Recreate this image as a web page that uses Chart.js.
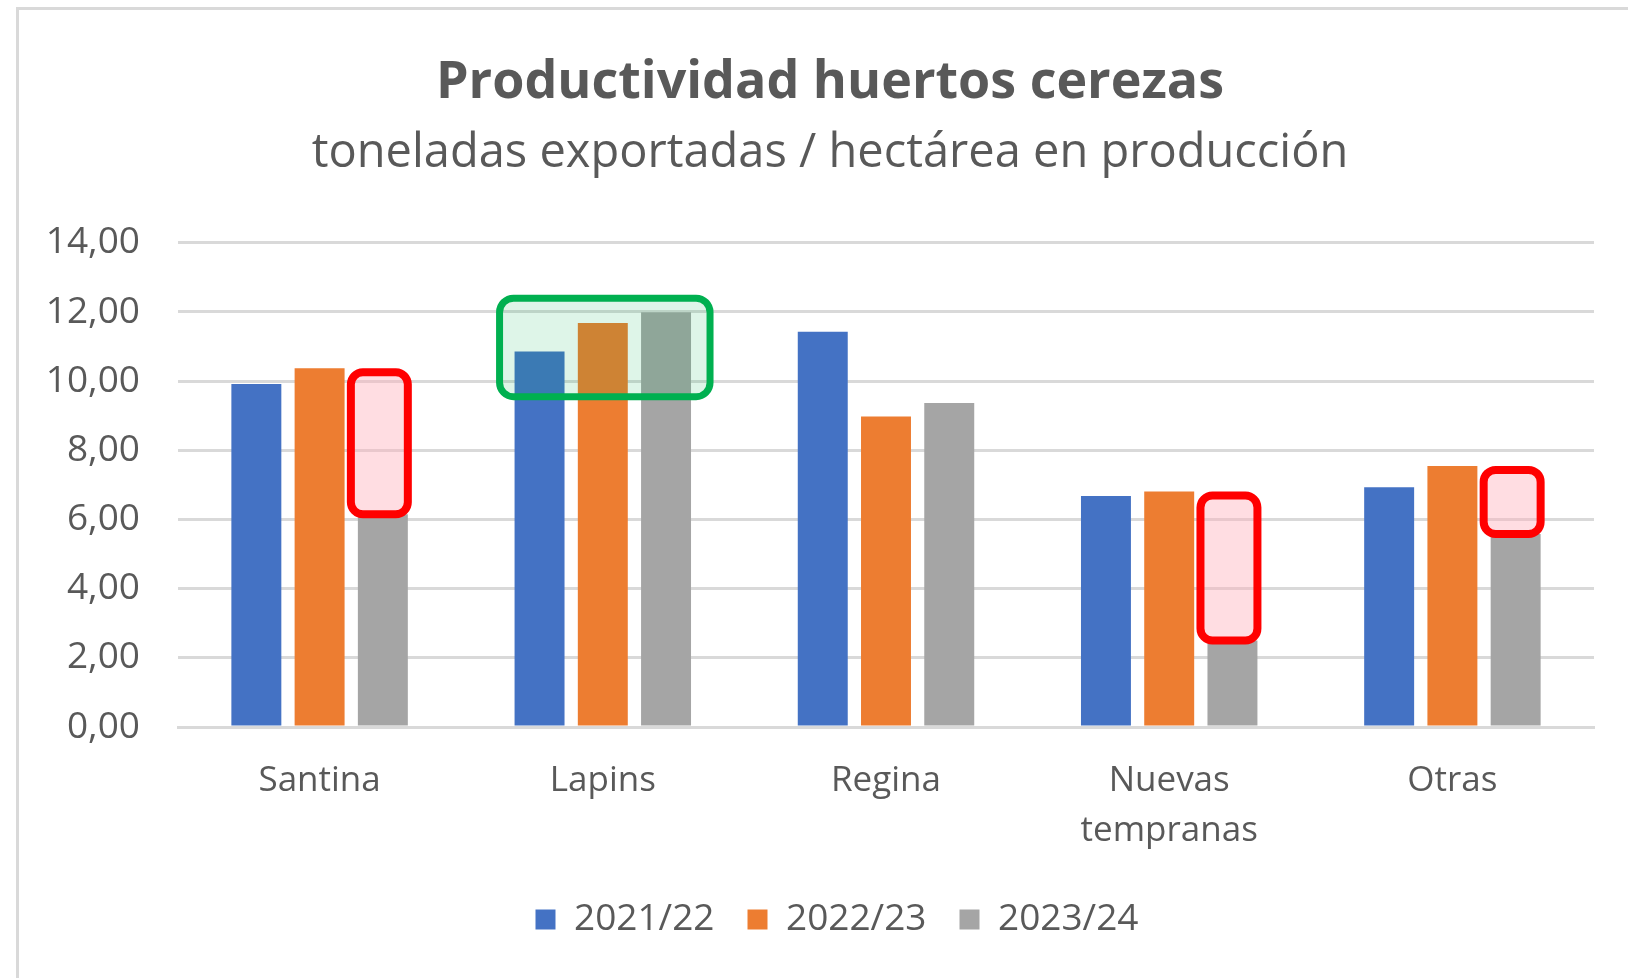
<!DOCTYPE html>
<html>
<head>
<meta charset="utf-8">
<script src="https://cdn.jsdelivr.net/npm/chart.js@4/dist/chart.umd.min.js"></script>
<style>
  body { margin: 0; background: #fff; }
  .wrap { position: relative; width: 1628px; height: 978px; overflow: hidden; }
  .frame { position: absolute; left: 16px; top: 7px; width: 1700px; height: 1100px; border: 3px solid #d9d9d9; box-sizing: border-box; }
  canvas { position: absolute; left: 0; top: 0; }
</style>
</head>
<body>
<div class="wrap">
  <div class="frame"></div>
  <canvas id="myChart" width="1628" height="978"></canvas>
</div>
<script>
// chart data
const categories = ['Santina', 'Lapins', 'Regina', ['Nuevas', 'tempranas'], 'Otras'];
const seasons = ['2021/22', '2022/23', '2023/24'];
const values2122 = [9.92, 10.86, 11.43, 6.68, 6.93];
const values2223 = [10.37, 11.68, 8.98, 6.81, 7.55];
const values2324 = [6.15, 11.99, 9.37, 2.5, 5.58];
const yTicks = [0, 2, 4, 6, 8, 10, 12, 14];

// highlight boxes: red = drop from 2022/23 to 2023/24, green = Lapins growth
const dropIdx = [0, 3, 4];
const growIdx = 1;
const growRange = [9.55, 12.4];

const colors = ['#4472C4', '#ED7D31', '#A5A5A5'];
const grey = '#595959';
const fontFam = "'Open Sans', sans-serif";

function roundBox(ctx, x1, y1, x2, y2, r, fill, stroke, lw) {
  ctx.save();
  ctx.beginPath();
  ctx.roundRect(x1, y1, x2 - x1, y2 - y1, r);
  ctx.fillStyle = fill;
  ctx.fill();
  ctx.lineWidth = lw;
  ctx.strokeStyle = stroke;
  ctx.stroke();
  ctx.restore();
}

// draws the marker boxes from the bar elements and the y scale
const boxesPlugin = {
  id: 'boxes',
  // title, subtitle and legend sit a bit right of canvas centre in the original
  afterLayout(chart) {
    chart.boxes.forEach(b => {
      if (b !== chart.scales.x && b !== chart.scales.y) {
        const shift = b === chart.legend ? 40 : 33;
        b.left += shift;
        b.right += shift;
      }
    });
  },
  afterDatasetsDraw(chart) {
    const ctx = chart.ctx;
    const y = chart.scales.y;
    const orange = chart.getDatasetMeta(1).data;
    const gray = chart.getDatasetMeta(2).data;
    const blue = chart.getDatasetMeta(0).data;

    dropIdx.forEach(i => {
      const bar = gray[i];
      const left = bar.x - bar.width / 2 - 7;
      const right = bar.x + bar.width / 2;
      const top = orange[i].y + 4;
      const bottom = y.getPixelForValue(values2324[i]);
      roundBox(ctx, left, top, right, bottom, 12, 'rgba(255, 175, 185, 0.42)', '#FF0000', 8);
    });

    const b = blue[growIdx], g = gray[growIdx];
    roundBox(ctx, b.x - b.width / 2 - 15, y.getPixelForValue(growRange[1]),
      g.x + g.width / 2 + 19, y.getPixelForValue(growRange[0]),
      14, 'rgba(0, 176, 80, 0.13)', '#00B050', 7);
  }
};

const data = {
  labels: categories,
  datasets: seasons.map((s, i) => ({
    label: s,
    data: [values2122, values2223, values2324][i],
    backgroundColor: colors[i],
    borderWidth: 0,
    categoryPercentage: 0.67,
    barPercentage: 0.79
  }))
};

const config = {
  type: 'bar',
  data: data,
  plugins: [boxesPlugin],
  options: {
    responsive: false,
    animation: false,
    layout: { padding: { left: 0, right: 34, top: 0, bottom: 30 } },
    plugins: {
      title: {
        display: true,
        text: 'Productividad huertos cerezas',
        color: grey,
        font: { family: fontFam, size: 52, weight: 'bold', lineHeight: 1.2 },
        padding: { top: 52, bottom: 11 }
      },
      subtitle: {
        display: true,
        text: 'toneladas exportadas / hectárea en producción',
        color: grey,
        font: { family: fontFam, size: 47, lineHeight: 1.2 },
        padding: { top: 0, bottom: 61 }
      },
      legend: {
        position: 'bottom',
        labels: {
          color: grey,
          font: { family: fontFam, size: 37 },
          boxWidth: 20,
          boxHeight: 20,
          padding: 33
        }
      },
      tooltip: { enabled: false }
    },
    scales: {
      x: {
        grid: { display: false },
        border: { color: '#d9d9d9', width: 3 },
        ticks: {
          color: grey,
          padding: 21,
          font: { family: fontFam, size: 35, lineHeight: 1.42 }
        },
        afterFit(scale) { scale.height = 141; }
      },
      y: {
        min: 0,
        max: 14,
        afterBuildTicks(scale) { scale.ticks = yTicks.map(v => ({ value: v })); },
        grid: { color: '#d9d9d9', lineWidth: 3, drawTicks: false },
        border: { display: false },
        ticks: {
          color: grey,
          padding: 38,
          font: { family: fontFam, size: 37 },
          callback: v => v.toFixed(2).replace('.', ',')
        },
        afterFit(scale) { scale.width = 178; }
      }
    }
  }
};

const myChart = new Chart(document.getElementById('myChart'), config);
</script>
</body>
</html>
